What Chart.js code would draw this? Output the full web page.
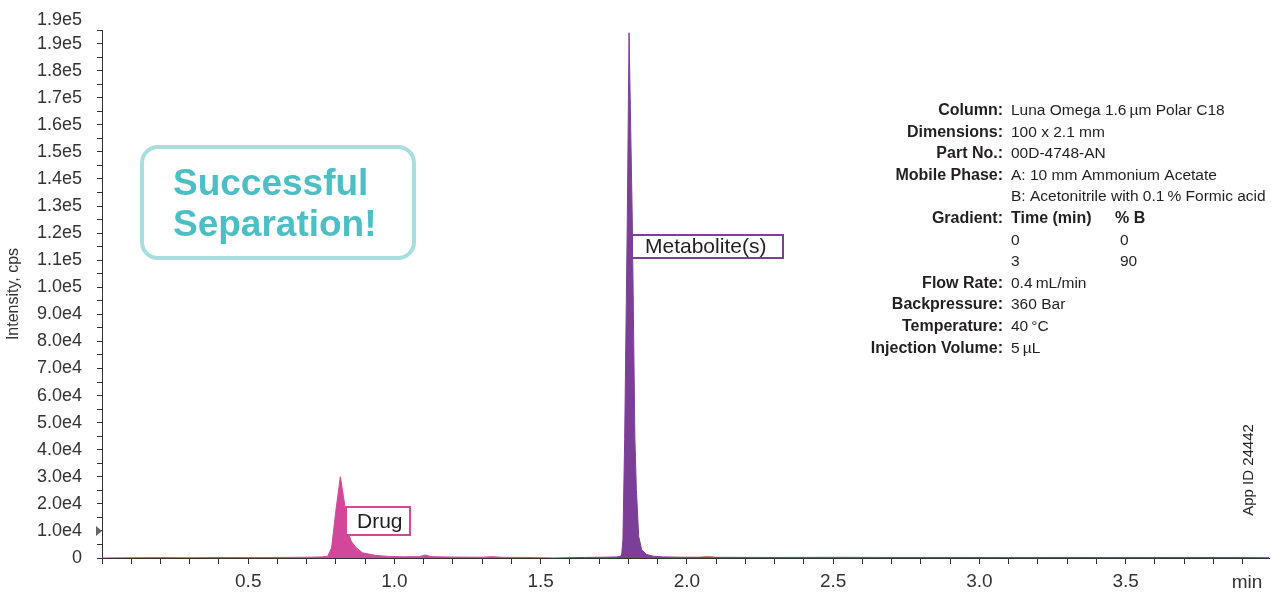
<!DOCTYPE html>
<html lang="en">
<head>
<meta charset="UTF-8">
<title>Chromatogram</title>
<style>
  body { margin: 0; background: #fff; }
  #wrap { width: 1271px; height: 592px; position: relative; }
</style>
</head>
<body>
<div id="wrap"><canvas id="myChart"></canvas></div>
<script src="https://cdn.jsdelivr.net/npm/chart.js"></script>
<script>
// retention time (min) / intensity (cps)
const drugTime = [0, 0.1, 0.2, 0.3, 0.4, 0.5, 0.6, 0.7, 0.75, 0.772, 0.785, 0.8, 0.815, 0.829, 0.84, 0.852, 0.869, 0.891, 0.937, 0.98, 1.03, 1.085, 1.105, 1.125, 1.2, 1.3, 1.335, 1.37, 1.45, 1.55];
const drugIntensity = [0, 100, 150, 100, 200, 150, 200, 300, 400, 660, 3760, 17900, 30000, 20300, 9900, 6200, 3760, 1900, 920, 600, 450, 500, 1100, 500, 350, 300, 500, 250, 200, 0];

const metaboliteTime = [1.55, 1.65, 1.72, 1.76, 1.774, 1.777, 1.781, 1.787, 1.796, 1.802, 1.813, 1.822, 1.827, 1.835, 1.845, 1.862, 1.884, 1.92, 1.98, 2.1, 2.3, 2.5, 2.7, 2.9, 3.1, 3.3, 3.5, 3.7, 3.9, 3.99];
const metaboliteIntensity = [0, 200, 300, 400, 700, 1500, 6800, 43700, 125000, 194000, 125000, 43700, 25300, 8000, 3100, 1300, 660, 400, 300, 250, 200, 250, 200, 200, 150, 200, 150, 200, 150, 100];

const otherTime = [1.98, 2.04, 2.065, 2.08, 2.1, 2.16];
const otherIntensity = [0, 150, 600, 550, 150, 0];

const xTickValues = [0.5, 1.0, 1.5, 2.0, 2.5, 3.0, 3.5];
const xTickLabels = ['0.5', '1.0', '1.5', '2.0', '2.5', '3.0', '3.5'];
const yTickValues = [0, 10000, 20000, 30000, 40000, 50000, 60000, 70000, 80000, 90000, 100000,
  110000, 120000, 130000, 140000, 150000, 160000, 170000, 180000, 190000];
const yTickLabels = ['0', '1.0e4', '2.0e4', '3.0e4', '4.0e4', '5.0e4', '6.0e4', '7.0e4', '8.0e4', '9.0e4', '1.0e5',
  '1.1e5', '1.2e5', '1.3e5', '1.4e5', '1.5e5', '1.6e5', '1.7e5', '1.8e5', '1.9e5'];
const yTopLabel = '1.9e5';

const infoLabels = ['Column:', 'Dimensions:', 'Part No.:', 'Mobile Phase:', '', 'Gradient:', '', '', 'Flow Rate:', 'Backpressure:', 'Temperature:', 'Injection Volume:'];
const infoValues = ['Luna Omega 1.6\u2009\u00b5m Polar C18', '100 x 2.1 mm', '00D-4748-AN', 'A: 10 mm Ammonium Acetate',
  'B: Acetonitrile with 0.1\u2009% Formic acid', '', '0', '3', '0.4\u2009mL/min', '360 Bar', '40\u2009\u00b0C', '5\u2009\u00b5L'];
const infoSecond = ['', '', '', '', '', '', '0', '90', '', '', '', ''];

const pink = '#D3479B';
const purple = '#7B3F97';
const font = '"Liberation Sans", Arial, sans-serif';

const toPoints = (t, v) => t.map((x, i) => ({ x: x, y: v[i] }));

function pickLabel(value, values, labels) {
  for (let i = 0; i < values.length; i++) {
    if (Math.abs(value - values[i]) < 1e-6) return labels[i];
  }
  return '';
}

function roundedBox(c, x, y, w, h, r) {
  c.beginPath();
  c.moveTo(x + r, y);
  c.arcTo(x + w, y, x + w, y + h, r);
  c.arcTo(x + w, y + h, x, y + h, r);
  c.arcTo(x, y + h, x, y, r);
  c.arcTo(x, y, x + w, y, r);
  c.closePath();
}

const notes = {
  id: 'notes',
  afterDraw(chart) {
    const ctx = chart.ctx;
    const y = chart.scales.y;
    ctx.save();
    ctx.fillStyle = '#333';
    ctx.textBaseline = 'alphabetic';

    // label above the axis top
    ctx.font = '18px ' + font;
    ctx.textAlign = 'right';
    ctx.fillText(yTopLabel, 82, 25);

    // unit at the end of the time axis
    ctx.font = '19px ' + font;
    ctx.textAlign = 'center';
    ctx.fillText('min', 1247, 588);

    // small marker on the y axis
    const my = y.getPixelForValue(10000);
    ctx.fillStyle = '#666';
    ctx.beginPath();
    ctx.moveTo(96, my - 5);
    ctx.lineTo(102, my);
    ctx.lineTo(96, my + 5);
    ctx.closePath();
    ctx.fill();

    // peak labels
    ctx.lineWidth = 2;
    ctx.fillStyle = '#fff';
    ctx.strokeStyle = pink;
    ctx.fillRect(346, 507, 64, 28);
    ctx.strokeRect(346, 507, 64, 28);
    ctx.strokeStyle = purple;
    ctx.fillRect(632, 235, 151, 23);
    ctx.strokeRect(632, 235, 151, 23);
    ctx.fillStyle = '#231F20';
    ctx.textAlign = 'left';
    ctx.font = '21px ' + font;
    ctx.fillText('Drug', 357, 528);
    ctx.fillText('Metabolite(s)', 645, 253);

    // callout
    ctx.lineWidth = 4;
    ctx.strokeStyle = '#A9DEE1';
    roundedBox(ctx, 142, 147, 272, 111, 16);
    ctx.stroke();
    ctx.fillStyle = '#4CBFC5';
    ctx.font = 'bold 37px ' + font;
    ctx.fillText('Successful', 173, 195);
    ctx.fillText('Separation!', 173, 236);

    // method conditions
    ctx.fillStyle = '#231F20';
    for (let i = 0; i < infoLabels.length; i++) {
      const by = 115 + i * 21.6;
      if (infoLabels[i]) {
        ctx.font = 'bold 16px ' + font;
        ctx.textAlign = 'right';
        ctx.fillText(infoLabels[i], 1003, by);
      }
      ctx.textAlign = 'left';
      if (infoLabels[i] === 'Gradient:') {
        ctx.font = 'bold 16px ' + font;
        ctx.fillText('Time (min)', 1011, by);
        ctx.fillText('% B', 1115, by);
        continue;
      }
      ctx.font = '15.5px ' + font;
      ctx.fillText(infoValues[i], 1011, by);
      if (infoSecond[i]) ctx.fillText(infoSecond[i], 1120, by);
    }

    // app id, rotated
    ctx.translate(1253, 470);
    ctx.rotate(-Math.PI / 2);
    ctx.textAlign = 'center';
    ctx.font = '15px ' + font;
    ctx.fillText('App ID 24442', 0, 0);
    ctx.restore();
  }
};

const ctx = document.getElementById('myChart');

new Chart(ctx, {
  type: 'line',
  data: {
    datasets: [
      {
        label: 'Metabolite',
        data: toPoints(metaboliteTime, metaboliteIntensity),
        borderColor: purple,
        backgroundColor: purple,
        borderWidth: 1,
        fill: 'origin',
        pointRadius: 0,
        tension: 0
      },
      {
        label: 'Drug',
        data: toPoints(drugTime, drugIntensity),
        borderColor: pink,
        backgroundColor: pink,
        borderWidth: 1,
        fill: 'origin',
        pointRadius: 0,
        tension: 0
      },
      {
        label: 'Other',
        data: toPoints(otherTime, otherIntensity),
        borderColor: '#E29A3A',
        backgroundColor: '#E29A3A',
        borderWidth: 1,
        fill: 'origin',
        pointRadius: 0,
        tension: 0
      }
    ]
  },
  plugins: [notes],
  options: {
    responsive: true,
    maintainAspectRatio: false,
    animation: false,
    layout: { padding: { top: 30, right: 2, left: 0, bottom: 0 } },
    plugins: {
      legend: { display: false },
      tooltip: { enabled: false }
    },
    scales: {
      x: {
        type: 'linear',
        min: 0,
        max: 3.99,
        afterFit: (scale) => { scale.height = 34; },
        border: { display: true, color: '#333', width: 1 },
        grid: { drawOnChartArea: false, drawTicks: true, color: '#333', tickLength: 6 },
        ticks: {
          stepSize: 0.1,
          includeBounds: false,
          autoSkip: false,
          maxRotation: 0,
          minRotation: 0,
          padding: 6,
          color: '#333',
          font: { family: font, size: 19 },
          callback: (v) => pickLabel(v, xTickValues, xTickLabels)
        }
      },
      y: {
        min: 0,
        max: 195000,
        afterFit: (scale) => { scale.width = 102; },
        border: { display: true, color: '#333', width: 1 },
        grid: { drawOnChartArea: false, drawTicks: true, color: '#333', tickLength: 5 },
        title: {
          display: true,
          text: 'Intensity, cps',
          color: '#333',
          font: { family: font, size: 16 },
          padding: { top: 4, bottom: 0 }
        },
        ticks: {
          stepSize: 5000,
          includeBounds: false,
          autoSkip: false,
          padding: 15,
          color: '#333',
          font: { family: font, size: 18 },
          callback: (v) => pickLabel(v, yTickValues, yTickLabels)
        }
      }
    }
  }
});
</script>
</body>
</html>
